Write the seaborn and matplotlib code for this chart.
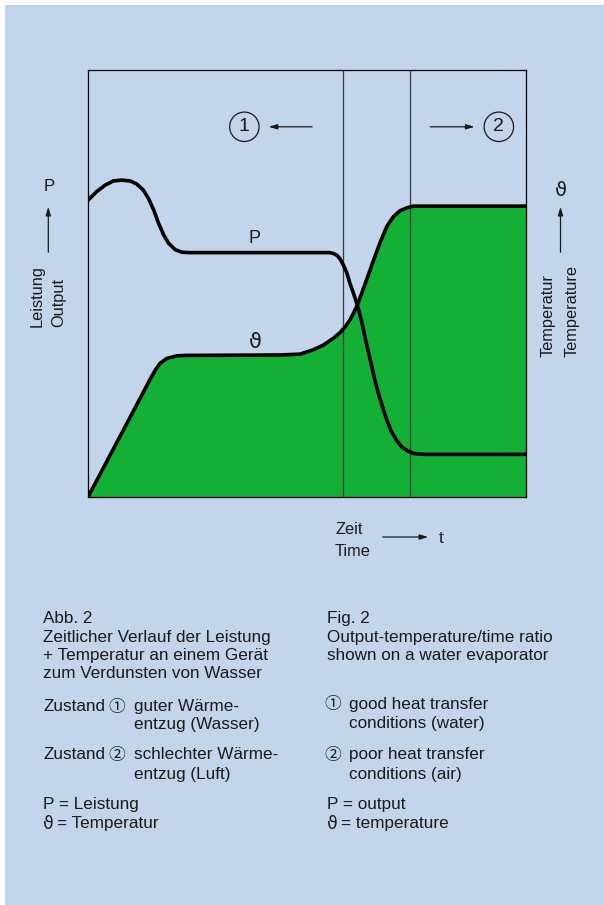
from matplotlib import pyplot as plt
from matplotlib.patches import Rectangle
import pandas as pd
import numpy as np
import seaborn as sns

# power curve P (time in % of the window, value in % of axis height)
time_p = [0, 1.98, 3.88, 5.78, 7.69, 9.59, 11.1, 12.6, 13.8, 15.0, 16.1, 17.3,
          18.4, 19.9, 21.4, 22.9,
          55.25, 56.0, 56.8, 57.5, 58.3, 59.1, 59.8, 60.6, 61.5, 62.5, 63.2,
          64.0, 64.8, 65.5, 66.3, 67.1, 68.2, 69.3, 70.5, 71.6, 72.8, 74.3,
          76.6, 100]
power = [69.6, 71.6, 73.1, 74.1, 74.3, 74.1, 73.4, 72.0, 70.0, 67.3, 64.2, 61.4,
         59.5, 58.0, 57.4, 57.3,
         57.3, 57.1, 56.7, 55.9, 54.4, 52.5, 50.1, 47.8, 45.0, 41.1, 37.6,
         34.1, 30.6, 27.4, 24.3, 21.6, 18.1, 15.3, 13.2, 11.8, 10.9, 10.2,
         10.0, 10.0]

# temperature curve
time_t = [0, 14.5, 15.4, 16.4, 18.0, 20.3, 22.5,
          43.8, 48.4, 51.4, 53.7, 56.0, 57.5, 58.7, 59.8, 60.6, 61.5, 62.5,
          63.6, 64.8, 65.9, 67.1, 68.2, 69.7, 71.2, 72.8, 74.3, 76.6, 100]
temp = [0, 28.2, 29.8, 31.3, 32.5, 33.1, 33.2,
        33.3, 33.5, 34.5, 35.6, 37.2, 38.5, 39.9, 41.5, 43.1, 45.0, 47.8,
        50.9, 54.4, 57.5, 60.7, 63.4, 65.7, 67.1, 67.8, 68.2, 68.2, 68.2]

zone_bounds = [58.2, 73.5]

left_caption = ['Abb. 2', 'Zeitlicher Verlauf der Leistung',
                '+ Temperatur an einem Gerät', 'zum Verdunsten von Wasser']
right_caption = ['Fig. 2', 'Output-temperature/time ratio',
                 'shown on a water evaporator']

bg = '#c3d5ea'
green = '#14b035'
ink = '#1a1a1a'

sns.set_style('white')
plt.rcParams['font.family'] = ['Liberation Sans', 'DejaVu Sans']

W, H = 604, 905
fig = plt.figure(figsize=(W / 100, H / 100), dpi=100, facecolor='white')
fig.patches.append(Rectangle((4.6 / W, 0), 1, 1 - 4.6 / H, transform=fig.transFigure,
                             facecolor=bg, edgecolor='none', zorder=-10))

ax = fig.add_axes([88 / W, 1 - 497 / H, 438 / W, 426.5 / H])
ax.set_facecolor('none')

df_p = pd.DataFrame({'t': time_p, 'v': power})
df_t = pd.DataFrame({'t': time_t, 'v': temp})

ax.fill_between(df_t['t'], df_t['v'], 0, color=green, lw=0, zorder=1)
for xb in zone_bounds:
    ax.axvline(xb, color='#3a3a3a', lw=0.9, zorder=2)
sns.lineplot(data=df_t, x='t', y='v', ax=ax, color='black', lw=2.6, sort=False, zorder=3)
sns.lineplot(data=df_p, x='t', y='v', ax=ax, color='black', lw=2.6, sort=False, zorder=3)
for l in ax.lines:
    l.set_solid_joinstyle('round')

ax.set_xlim(0, 100)
ax.set_ylim(0, 100)
ax.set_xticks([])
ax.set_yticks([])
ax.set_xlabel('')
ax.set_ylabel('')
for s in ax.spines.values():
    s.set_color('black')
    s.set_linewidth(0.9)

theta = ['DejaVu Sans']
ax.text(38.1, 60.7, 'P', fontsize=13, color=ink, ha='center', va='center')
ax.text(38.1, 36.3, 'ϑ', family=theta, fontsize=15, color=ink, ha='center', va='center')

# zone markers
circ = dict(boxstyle='circle,pad=0.32', fc='none', ec=ink, lw=0.9)
ax.text(35.7, 86.8, '1', fontsize=14, color=ink, ha='center', va='center', bbox=circ)
ax.text(93.8, 86.8, '2', fontsize=14, color=ink, ha='center', va='center', bbox=circ)
arr = dict(arrowstyle='-|>,head_length=0.5,head_width=0.15', color=ink, lw=0.9)
ax.annotate('', xy=(40.6, 86.8), xytext=(51.8, 86.8), arrowprops=arr)
ax.annotate('', xy=(88.9, 86.8), xytext=(77.5, 86.8), arrowprops=arr)


def fp(x, y):
    return (x, H - y)


def ftext(x, y, s, **kw):
    kw.setdefault('fontsize', 12.3)
    kw.setdefault('color', ink)
    kw.setdefault('va', 'center_baseline')
    fig.text(x / W, 1 - y / H, s, **kw)


def farrow(x0, y0, x1, y1):
    ax.annotate('', xy=fp(x1, y1), xytext=fp(x0, y0), xycoords='figure pixels',
                textcoords='figure pixels', arrowprops=arr, annotation_clip=False)


# axis labels outside
ftext(49, 185, 'P', fontsize=12, ha='center')
farrow(48.3, 255, 48.3, 204)
ftext(36.7, 327, 'Leistung', fontsize=11.8, rotation=90, ha='center', va='bottom')
ftext(58.3, 327, 'Output', fontsize=11.8, rotation=90, ha='center', va='bottom')

ftext(560.7, 188, 'ϑ', family=theta, fontsize=14, ha='center')
farrow(560.5, 255, 560.5, 204)
ftext(548, 357, 'Temperatur', fontsize=11.8, rotation=90, ha='center', va='bottom')
ftext(571.7, 357, 'Temperature', fontsize=11.8, rotation=90, ha='center', va='bottom')

ftext(335, 528, 'Zeit', fontsize=11.8)
ftext(335, 550, 'Time', fontsize=11.8)
farrow(380, 537, 431, 537)
ftext(441, 537, 't', fontsize=12.5, ha='center')

# captions
for i, line in enumerate(left_caption):
    ftext(43, [617, 636, 654, 672][i], line)
for i, line in enumerate(right_caption):
    ftext(327, [617, 636, 654][i], line)

cjk = ['Noto Sans CJK SC', 'DejaVu Sans']
ftext(43, 705, 'Zustand')
ftext(116.7, 705, '①', family=cjk, fontsize=12, ha='center')
ftext(134, 705, 'guter Wärme-')
ftext(134, 723, 'entzug (Wasser)')
ftext(43, 753, 'Zustand')
ftext(116.7, 753, '②', family=cjk, fontsize=12, ha='center')
ftext(134, 753, 'schlechter Wärme-')
ftext(134, 773, 'entzug (Luft)')
ftext(43, 803, 'P = Leistung')
ftext(43, 822, 'ϑ', family=theta, fontsize=12.3)
ftext(57, 822, '= Temperatur')

ftext(333, 703, '①', family=cjk, fontsize=12, ha='center')
ftext(349, 703, 'good heat transfer')
ftext(349, 722, 'conditions (water)')
ftext(333, 753, '②', family=cjk, fontsize=12, ha='center')
ftext(349, 753, 'poor heat transfer')
ftext(349, 773, 'conditions (air)')
ftext(327, 803, 'P = output')
ftext(327, 822, 'ϑ', family=theta, fontsize=12.3)
ftext(341, 822, '= temperature')

fig.savefig('out.png', dpi=100, facecolor='white')
